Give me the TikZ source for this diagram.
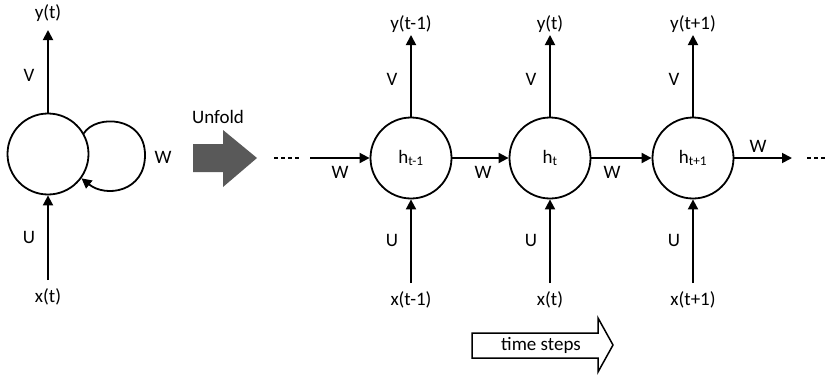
\documentclass[tikz,border=0pt]{standalone}
\usepackage{fontspec}
\setmainfont{Carlito}
\usetikzlibrary{arrows.meta}
\begin{document}
\begin{tikzpicture}[x=1pt,y=1pt,
  every node/.style={font=\fontsize{19}{22}\selectfont, inner sep=0pt},
  cell/.style={draw, circle, line width=1.8pt, minimum size=81pt},
  conn/.style={line width=1.8pt, -{Triangle[length=10pt,width=10pt]}},
  dots/.style={line width=2pt, dash pattern=on 3.5pt off 3.5pt},
  lbl/.style={anchor=center}]
\useasboundingbox (0,0) rectangle (825,376);

% ---------- folded network ----------
\node[cell] (c0) at (48,222) {};
\node[lbl] (y0) at (48,363) {y(t)};
\node[lbl] (x0) at (48,79) {x(t)};
\coordinate (y0tip) at (48,346);
\coordinate (x0src) at (48,96);
\draw[conn] (c0.north) -- (y0tip);
\draw[conn] (x0src) -- (c0.south);
\node[lbl] at (29,301) {V};
\node[lbl] at (29,139) {U};
\draw[conn] (c0.30) .. controls (96,262) and (145,260) .. (145,221)
  .. controls (145,184) and (106,178) .. (c0.-36);
\node[lbl] at (163,219) {W};

% ---------- unfold arrow ----------
\fill[fill={rgb,255:red,89;green,89;blue,89}]
  (193,232) -- (223,232) -- (223,246) -- (257,218) -- (223,189)
  -- (223,204) -- (193,204) -- cycle;
\node[lbl] at (218,259) {Unfold};

% ---------- unfolded network ----------
\foreach \n/\cx/\h/\y/\x in {h1/411/{h\textsubscript{t-1}}/y(t-1)/x(t-1),
                              h2/550/{h\textsubscript{t}}/y(t)/x(t),
                              h3/693/{h\textsubscript{t+1}}/y(t+1)/x(t+1)}{
  \node[cell] (\n) at (\cx,218) {\h};
  \coordinate (\n top) at (\cx,341);
  \coordinate (\n bot) at (\cx,93);
  \node[lbl] (\n y) at (\cx,352) {\y};
  \node[lbl] (\n x) at (\cx,76) {\x};
  \draw[conn] (\n.north) -- (\n top);
  \draw[conn] (\n bot) -- (\n.south);
  \node[lbl] at (\cx-19,297) {V};
  \node[lbl] at (\cx-19,136) {U};
}

\coordinate (d1a) at (274,218);
\coordinate (d1b) at (301,218);
\coordinate (in0) at (310,218);
\coordinate (out3) at (792,218);
\coordinate (d2a) at (807,218);
\coordinate (d2b) at (825,218);
\draw[dots] (d1a) -- (d1b);
\draw[dots] (d2a) -- (d2b);
\draw[conn] (in0) -- (h1.west);
\draw[conn] (h1.east) -- (h2.west);
\draw[conn] (h2.east) -- (h3.west);
\draw[conn] (h3.east) -- (out3);
\node[lbl] at (340,204) {W};
\node[lbl] at (483,204) {W};
\node[lbl] at (612,204) {W};
\node[lbl] at (758,230) {W};

% ---------- time steps arrow ----------
\draw[line width=1.5pt, line join=miter]
  (472,43) -- (598,43) -- (598,58) -- (613,31) -- (598,4)
  -- (598,18) -- (472,18) -- cycle;
\node[lbl] (ts) at (541,31) {time steps};
\end{tikzpicture}
\end{document}
